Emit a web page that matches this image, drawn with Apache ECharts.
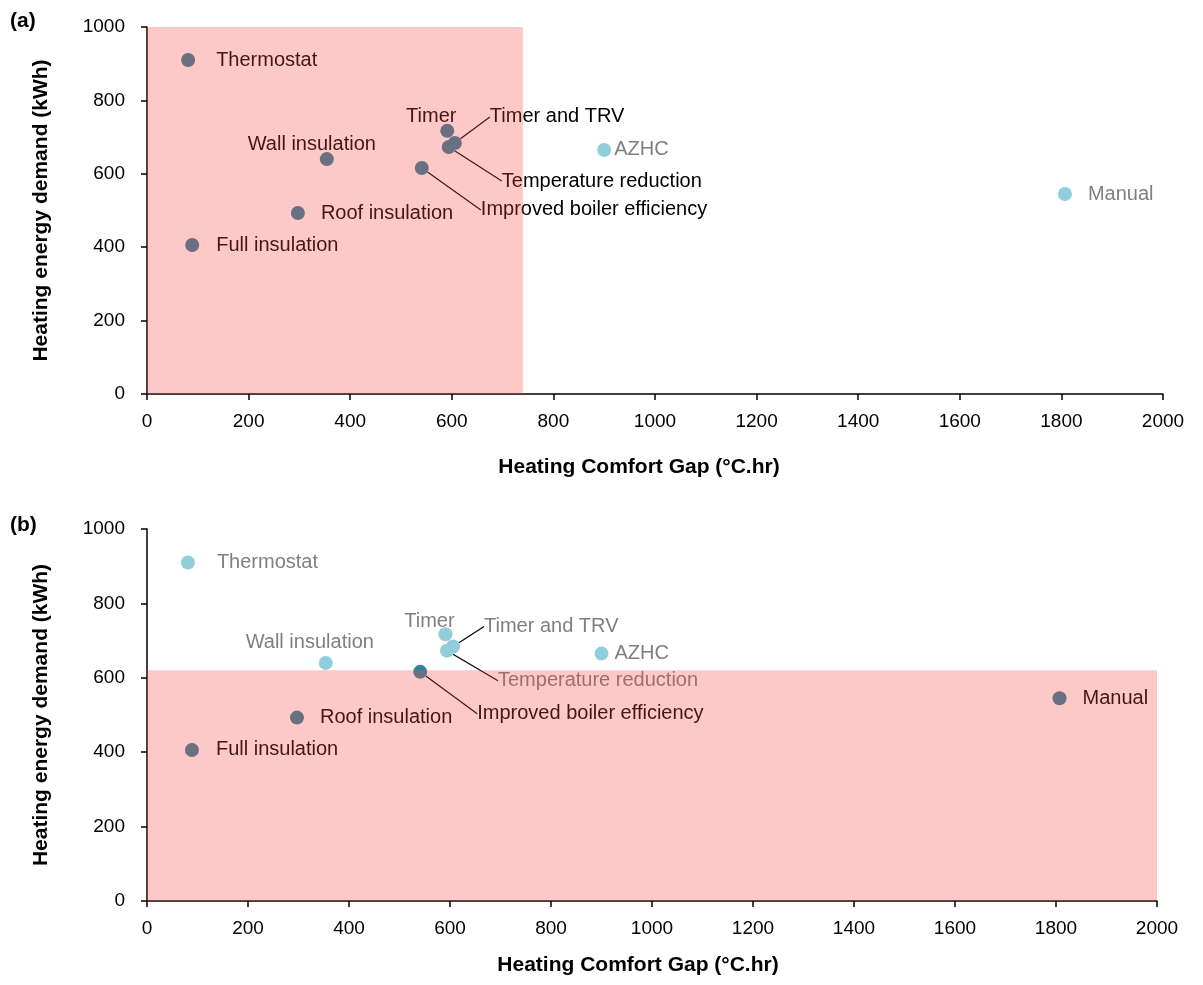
<!DOCTYPE html>
<html>
<head>
<meta charset="utf-8">
<script src="https://cdn.jsdelivr.net/npm/echarts@6/dist/echarts.min.js"></script>
<style>
html,body{margin:0;padding:0;background:#fff;}
#chart{width:1203px;height:985px;}
</style>
</head>
<body>
<div id="chart"></div>
<script>
// ---- data ----
var names = ['Thermostat','Full insulation','Roof insulation','Wall insulation','Improved boiler efficiency','Timer','Temperature reduction','Timer and TRV','AZHC','Manual'];
var comfortGap = [81, 89, 297, 354, 541, 591, 594, 606, 900, 1807];
var energyDemand = [910, 406, 493, 640, 616, 717, 673, 684, 665, 545];
// highlighted (dark) options in each panel
var darkA = ['Thermostat','Full insulation','Roof insulation','Wall insulation','Improved boiler efficiency','Timer','Temperature reduction','Timer and TRV'];
var darkB = ['Full insulation','Roof insulation','Improved boiler efficiency','Manual'];
// shaded regions [xMin, xMax, yMin, yMax]
var regionA = [0, 740, 0, 1000];
var regionB = [0, 2000, 0, 620];
var xTicks = {min: 0, max: 2000, interval: 200};
var yTicks = {min: 0, max: 1000, interval: 200};

// ---- label placement (styles) ----
var placeA = {
  'Thermostat': {pos:'right', dist:21},
  'Full insulation': {pos:'right', dist:17},
  'Roof insulation': {pos:'right', dist:16},
  'Wall insulation': {pos:'top', dist:0, dx:-15, dy:2},
  'Improved boiler efficiency': {pos:'right', dist:4, dx:48, dy:42, line:true},
  'Timer': {pos:'top', dist:0, dx:-16, dy:3},
  'Temperature reduction': {pos:'right', dist:4, dx:42, dy:34, line:true},
  'Timer and TRV': {pos:'right', dist:4, dx:24, dy:-26, line:true},
  'AZHC': {pos:'right', dist:3},
  'Manual': {pos:'right', dist:16}
};
var placeB = {
  'Thermostat': {pos:'right', dist:22},
  'Full insulation': {pos:'right', dist:17},
  'Roof insulation': {pos:'right', dist:16},
  'Wall insulation': {pos:'top', dist:0, dx:-16, dy:-3},
  'Improved boiler efficiency': {pos:'right', dist:4, dx:46, dy:42, line:true},
  'Timer': {pos:'top', dist:0, dx:-16, dy:4},
  'Temperature reduction': {pos:'right', dist:4, dx:40, dy:30, line:true},
  'Timer and TRV': {pos:'right', dist:4, dx:20, dy:-20, line:true},
  'AZHC': {pos:'right', dist:6},
  'Manual': {pos:'right', dist:16}
};

var DARK = '#31849B', LIGHT = '#92CDDC';
var FONT = 'Liberation Sans, Arial, sans-serif';

function buildItems(darkList, place, wantDark) {
  var items = [];
  for (var i = 0; i < names.length; i++) {
    var isDark = darkList.indexOf(names[i]) >= 0;
    if (isDark !== wantDark) continue;
    var p = place[names[i]];
    var lab = {show:true, formatter:names[i], position:p.pos, fontSize:20, fontFamily:FONT,
               color: wantDark ? '#000' : '#7f7f7f', distance: p.dist};
    items.push({name:names[i], value:[comfortGap[i], energyDemand[i]], label:lab,
                labelLine:{show:!!p.line, lineStyle:{color:'#000', width:1.2}},
                _dx:p.dx||0, _dy:p.dy||0});
  }
  return items;
}

function layoutFn(items) {
  return function (params) {
    var it = items[params.dataIndex];
    if (!it) return {};
    return {dx: it._dx, dy: it._dy};
  };
}

function scatterSeries(idx, darkList, place, wantDark) {
  var items = buildItems(darkList, place, wantDark);
  return {
    type:'scatter', xAxisIndex:idx, yAxisIndex:idx, symbolSize:14, z:2,
    itemStyle:{color: wantDark ? DARK : LIGHT, opacity:1},
    data: items,
    labelLayout: layoutFn(items),
    labelLine: {show:false, lineStyle:{color:'#000', width:1.2}},
    emphasis:{disabled:true}, silent:true
  };
}

function overlaySeries(idx, r) {
  return {
    type:'scatter', xAxisIndex:idx, yAxisIndex:idx, data:[], z:10, silent:true,
    markArea:{silent:true, z:10,
      itemStyle:{color:'rgba(245,66,66,0.29)'},
      data:[[{coord:[r[0], r[2]]},{coord:[r[1], r[3]]}]]}
  };
}

function xAxis(idx, gap, shift) {
  return {type:'value', gridIndex:idx, min:xTicks.min, max:xTicks.max, interval:xTicks.interval,
    name:'Heating Comfort Gap (°C.hr)', nameLocation:'middle', nameGap:gap,
    nameTextStyle:{fontSize:21, fontWeight:'bold', color:'#000', fontFamily:FONT, padding:[0, shift, 0, 0]},
    axisLine:{show:true, lineStyle:{color:'#000', width:1.5}},
    axisTick:{show:true, length:6, lineStyle:{color:'#000', width:1.5}},
    axisLabel:{fontSize:19, color:'#000', margin:18, fontFamily:FONT, formatter:function(v){return String(v);}},
    splitLine:{show:false}};
}
function yAxis(idx) {
  return {type:'value', gridIndex:idx, min:yTicks.min, max:yTicks.max, interval:yTicks.interval,
    name:'Heating energy demand (kWh)', nameLocation:'middle', nameGap:95, nameRotate:90,
    nameTextStyle:{fontSize:21, fontWeight:'bold', color:'#000', fontFamily:FONT},
    axisLine:{show:true, lineStyle:{color:'#000', width:1.5}},
    axisTick:{show:true, length:6, lineStyle:{color:'#000', width:1.5}},
    axisLabel:{fontSize:19, color:'#000', margin:22, fontFamily:FONT, formatter:function(v){return String(v);}},
    splitLine:{show:false}};
}

var chart = echarts.init(document.getElementById('chart'));
chart.setOption({
  animation:false,
  backgroundColor:'#fff',
  textStyle:{fontFamily:FONT},
  graphic:[
    {type:'text', left:10, top:11, style:{text:'(a)', fill:'#000', font:'bold 21px Liberation Sans, Arial'}},
    {type:'text', left:10, top:515, style:{text:'(b)', fill:'#000', font:'bold 21px Liberation Sans, Arial'}}
  ],
  grid:[
    {left:147, top:27, width:1016, height:367},
    {left:147, top:529, width:1010, height:372}
  ],
  xAxis:[xAxis(0, 63, 32), xAxis(1, 54, 28)],
  yAxis:[yAxis(0), yAxis(1)],
  series:[
    scatterSeries(0, darkA, placeA, false),
    scatterSeries(0, darkA, placeA, true),
    overlaySeries(0, regionA),
    scatterSeries(1, darkB, placeB, false),
    scatterSeries(1, darkB, placeB, true),
    overlaySeries(1, regionB)
  ]
});
</script>
</body>
</html>
